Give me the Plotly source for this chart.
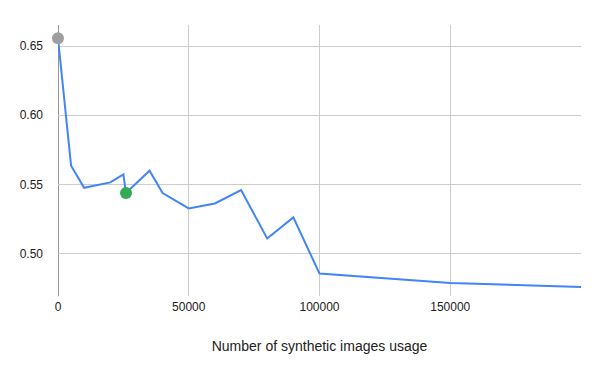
import plotly.graph_objects as go

x_values = [0, 5000, 10000, 20000, 25000, 26000, 35000, 40000, 50000, 60000, 70000, 80000, 90000, 100000, 150000, 200000]
y_values = [0.6556, 0.5635, 0.5475, 0.5514, 0.5572, 0.5437, 0.5599, 0.5437, 0.5326, 0.5362, 0.5459, 0.5109, 0.5261, 0.4855, 0.4787, 0.4758]

highlight_x = [0, 26000]
highlight_y = [0.6556, 0.5437]
highlight_colors = ["#9e9e9e", "#34a853"]

x_tickvals = [0, 50000, 100000, 150000, 200000]
x_ticktext = ["0", "50000", "100000", "150000", ""]
y_tickvals = [0.50, 0.55, 0.60, 0.65]
y_ticktext = ["0.50", "0.55", "0.60", "0.65"]

fig = go.Figure()
fig.add_trace(go.Scatter(
    x=x_values, y=y_values, mode="lines",
    line=dict(color="#4285f4", width=2),
    showlegend=False, hoverinfo="skip",
))
fig.add_trace(go.Scatter(
    x=highlight_x, y=highlight_y, mode="markers",
    marker=dict(color=highlight_colors, size=12, line=dict(width=0)),
    showlegend=False, cliponaxis=False,
))

fig.update_layout(
    width=600, height=371,
    margin=dict(l=58, r=19, t=25, b=75, autoexpand=False),
    plot_bgcolor="white", paper_bgcolor="white",
    font=dict(family="Liberation Sans, Arial, sans-serif", size=12, color="#222222"),
    xaxis=dict(
        range=[0, 200000], tickvals=x_tickvals, ticktext=x_ticktext,
        showgrid=True, gridcolor="#cccccc", gridwidth=1,
        zeroline=False, showline=False, ticks="", automargin=False,
        tickfont=dict(size=12, color="#222222"),
        ticklabelstandoff=2,
        title=dict(text="Number of synthetic images usage", font=dict(size=14, color="#222222"), standoff=28),
    ),
    yaxis=dict(
        range=[0.4693, 0.6652], tickvals=y_tickvals, ticktext=y_ticktext,
        showgrid=True, gridcolor="#cccccc", gridwidth=1,
        zeroline=False, showline=False, ticks="", automargin=False,
        tickfont=dict(size=12, color="#222222"),
        ticklabelstandoff=14,
    ),
    shapes=[dict(type="line", xref="x", yref="paper", x0=0, x1=0, y0=0, y1=1,
                 line=dict(color="#333333", width=1), layer="below")],
)

fig.write_html("out.html", config={"displayModeBar": False},
               post_script="document.body.style.margin='0';document.body.style.overflow='hidden';")
